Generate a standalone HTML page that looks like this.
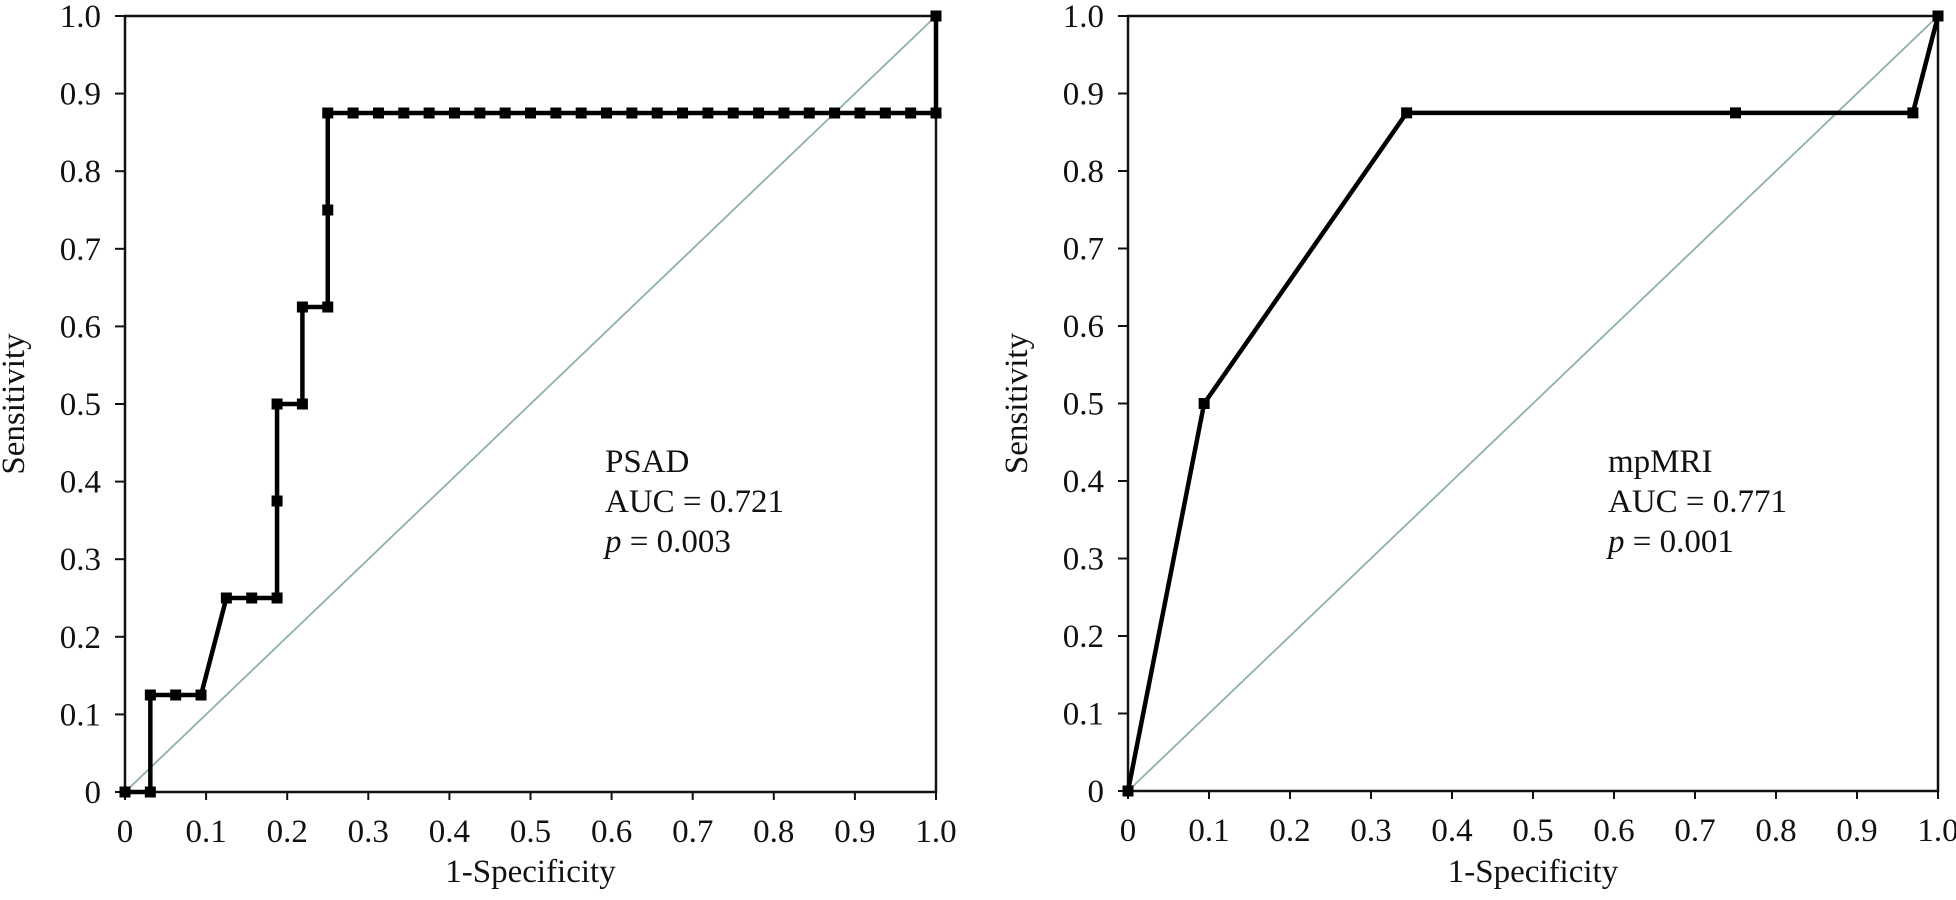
<!DOCTYPE html>
<html><head><meta charset="utf-8"><style>
body{margin:0;background:#fff;}
svg text{font-family:"Liberation Serif",serif;font-size:33px;fill:#111;}
</style></head><body>
<svg id="chart" width="1956" height="895" viewBox="0 0 1956 895" xmlns="http://www.w3.org/2000/svg"></svg>
<script>
const ticks = [0,0.1,0.2,0.3,0.4,0.5,0.6,0.7,0.8,0.9,1.0];
const tickLabels = ["0","0.1","0.2","0.3","0.4","0.5","0.6","0.7","0.8","0.9","1.0"];
const psadX = [0,0.03125,0.03125,0.0625,0.09375,0.125,0.15625,0.1875,0.1875,0.1875,0.21875,0.21875,0.25,0.25,0.25,0.28125,0.3125,0.34375,0.375,0.40625,0.4375,0.46875,0.5,0.53125,0.5625,0.59375,0.625,0.65625,0.6875,0.71875,0.75,0.78125,0.8125,0.84375,0.875,0.90625,0.9375,0.96875,1.0,1.0];
const psadY = [0,0,0.125,0.125,0.125,0.25,0.25,0.25,0.375,0.5,0.5,0.625,0.625,0.75,0.875,0.875,0.875,0.875,0.875,0.875,0.875,0.875,0.875,0.875,0.875,0.875,0.875,0.875,0.875,0.875,0.875,0.875,0.875,0.875,0.875,0.875,0.875,0.875,0.875,1.0];
const mriX = [0,0.094,0.344,0.75,0.969,1.0];
const mriY = [0,0.5,0.875,0.875,0.875,1.0];
const panels = [
 {name:"psad",x0:125,x1:936,y0:792,y1:16,xs:psadX,ys:psadY,label:["PSAD","AUC = 0.721","0.003"],tx:605},
 {name:"mpmri",x0:1128,x1:1938,y0:791,y1:16,xs:mriX,ys:mriY,label:["mpMRI","AUC = 0.771","0.001"],tx:1608}
];
const NS="http://www.w3.org/2000/svg";
const svg=document.getElementById('chart');
function mk(tag,attrs,parent){const e=document.createElementNS(NS,tag);for(const k in attrs)e.setAttribute(k,attrs[k]);(parent||svg).appendChild(e);return e;}
panels.forEach(p=>{
 const g=mk('g',{});
 
 
 const sx=v=>p.x0+v*(p.x1-p.x0), sy=v=>p.y0+v*(p.y1-p.y0);
 const fr=mk('rect',{x:p.x0,y:p.y1,width:p.x1-p.x0,height:p.y0-p.y1,fill:'none',stroke:'#111','stroke-width':2.5},g);
 
 
 ticks.forEach((t,i)=>{
  mk('line',{x1:sx(t),x2:sx(t),y1:p.y0,y2:p.y0+8,stroke:'#111','stroke-width':2},g);
  mk('line',{x1:p.x0-10,x2:p.x0,y1:sy(t),y2:sy(t),stroke:'#111','stroke-width':2},g);
  const xt=mk('text',{x:sx(t),y:p.y0+50,'text-anchor':'middle'},g);xt.textContent=tickLabels[i];
  
  
  const yt=mk('text',{x:p.x0-24,y:sy(t)+11,'text-anchor':'end'},g);yt.textContent=tickLabels[i];
  
  
 });
 const xa=mk('text',{x:(p.x0+p.x1)/2,y:882,'text-anchor':'middle'},g);xa.textContent='1-Specificity';
 
 
 const ya=mk('text',{x:0,y:0,'text-anchor':'middle',transform:`translate(${p.x0-101},${(p.y0+p.y1)/2}) rotate(-90)`},g);ya.textContent='Sensitivity';
 
 
 const dg=mk('line',{x1:sx(0),y1:sy(0),x2:sx(1),y2:sy(1),stroke:'#8fb0ab','stroke-width':1.8},g);
 
 
 const pts=p.xs.map((x,i)=>sx(x)+','+sy(p.ys[i])).join(' ');
 const pl=mk('polyline',{points:pts,fill:'none',stroke:'#000','stroke-width':4.5,'stroke-linejoin':'miter'},g);
 
 
 p.xs.forEach((x,i)=>{
  const m=mk('rect',{x:sx(x)-5.5,y:sy(p.ys[i])-5.5,width:11,height:11,fill:'#000'},g);
  
  
 });
 const t1=mk('text',{x:p.tx,y:472},g);t1.textContent=p.label[0];
 
 
 const t2=mk('text',{x:p.tx,y:512},g);t2.textContent=p.label[1];
 
 
 const t3=mk('text',{x:p.tx,y:552},g);
 
 
 const ts=mk('tspan',{'font-style':'italic'},t3);ts.textContent='p';
 const ts2=mk('tspan',{},t3);ts2.textContent=' = '+p.label[2];
});
</script>
</body></html>
